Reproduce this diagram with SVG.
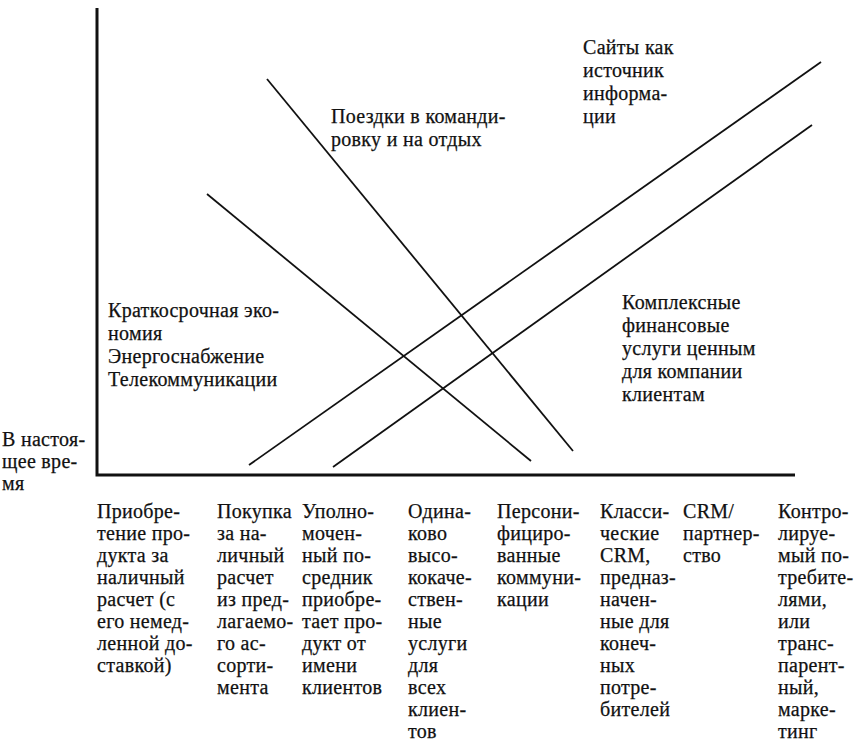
<svg xmlns="http://www.w3.org/2000/svg" width="860" height="742" viewBox="0 0 860 742">
<style>
text { font-family: "Liberation Serif", "Times New Roman", serif; font-size: 20px; fill: #111; stroke: #111; stroke-width: 0.25px; letter-spacing: 0.3px; }
.axis { stroke: #111; stroke-width: 3; fill: none; }
.ln { stroke: #111; stroke-width: 1.8; fill: none; }
</style>
<rect width="860" height="742" fill="#fff"/>
<g id="axes">
<path class="axis" d="M97,8 V475 H795"/>
</g>
<g id="connectors">
<line class="ln" x1="267" y1="79" x2="573" y2="451"/>
<line class="ln" x1="207" y1="194" x2="531" y2="461"/>
<line class="ln" x1="249" y1="465" x2="821" y2="62"/>
<line class="ln" x1="333" y1="467" x2="812" y2="125"/>
</g>
<g id="label-sites">
<text x="583" y="54">Сайты как</text>
<text x="583" y="77">источник</text>
<text x="583" y="100">информа-</text>
<text x="583" y="123">ции</text>
</g>
<g id="label-trips">
<text x="331" y="123">Поездки в команди-</text>
<text x="331" y="146">ровку и на отдых</text>
</g>
<g id="label-short">
<text x="108" y="317">Краткосрочная эко-</text>
<text x="108" y="340">номия</text>
<text x="108" y="363">Энергоснабжение</text>
<text x="108" y="386">Телекоммуникации</text>
</g>
<g id="label-complex">
<text x="622" y="309">Комплексные</text>
<text x="622" y="332">финансовые</text>
<text x="622" y="355">услуги ценным</text>
<text x="622" y="378">для компании</text>
<text x="622" y="401">клиентам</text>
</g>
<g id="label-now">
<text x="2" y="446">В настоя-</text>
<text x="2" y="468">щее вре-</text>
<text x="2" y="490">мя</text>
</g>
<g id="col1">
<text x="97" y="518">Приобре-</text>
<text x="97" y="540">тение про-</text>
<text x="97" y="562">дукта за</text>
<text x="97" y="584">наличный</text>
<text x="97" y="606">расчет (с</text>
<text x="97" y="628">его немед-</text>
<text x="97" y="650">ленной до-</text>
<text x="97" y="672">ставкой)</text>
</g>
<g id="col2">
<text x="217" y="518">Покупка</text>
<text x="217" y="540">за на-</text>
<text x="217" y="562">личный</text>
<text x="217" y="584">расчет</text>
<text x="217" y="606">из пред-</text>
<text x="217" y="628">лагаемо-</text>
<text x="217" y="650">го ас-</text>
<text x="217" y="672">сорти-</text>
<text x="217" y="694">мента</text>
</g>
<g id="col3">
<text x="302" y="518">Уполно-</text>
<text x="302" y="540">мочен-</text>
<text x="302" y="562">ный по-</text>
<text x="302" y="584">средник</text>
<text x="302" y="606">приобре-</text>
<text x="302" y="628">тает про-</text>
<text x="302" y="650">дукт от</text>
<text x="302" y="672">имени</text>
<text x="302" y="694">клиентов</text>
</g>
<g id="col4">
<text x="408" y="518">Одина-</text>
<text x="408" y="540">ково</text>
<text x="408" y="562">высо-</text>
<text x="408" y="584">кокаче-</text>
<text x="408" y="606">ствен-</text>
<text x="408" y="628">ные</text>
<text x="408" y="650">услуги</text>
<text x="408" y="672">для</text>
<text x="408" y="694">всех</text>
<text x="408" y="716">клиен-</text>
<text x="408" y="738">тов</text>
</g>
<g id="col5">
<text x="497" y="518">Персони-</text>
<text x="497" y="540">фициро-</text>
<text x="497" y="562">ванные</text>
<text x="497" y="584">коммуни-</text>
<text x="497" y="606">кации</text>
</g>
<g id="col6">
<text x="600" y="518">Класси-</text>
<text x="600" y="540">ческие</text>
<text x="600" y="562">CRM,</text>
<text x="600" y="584">предназ-</text>
<text x="600" y="606">начен-</text>
<text x="600" y="628">ные для</text>
<text x="600" y="650">конеч-</text>
<text x="600" y="672">ных</text>
<text x="600" y="694">потре-</text>
<text x="600" y="716">бителей</text>
</g>
<g id="col7">
<text x="683" y="518">CRM/</text>
<text x="683" y="540">партнер-</text>
<text x="683" y="562">ство</text>
</g>
<g id="col8">
<text x="778" y="518">Контро-</text>
<text x="778" y="540">лируе-</text>
<text x="778" y="562">мый по-</text>
<text x="778" y="584">требите-</text>
<text x="778" y="606">лями,</text>
<text x="778" y="628">или</text>
<text x="778" y="650">транс-</text>
<text x="778" y="672">парент-</text>
<text x="778" y="694">ный,</text>
<text x="778" y="716">марке-</text>
<text x="778" y="738">тинг</text>
</g>
</svg>
